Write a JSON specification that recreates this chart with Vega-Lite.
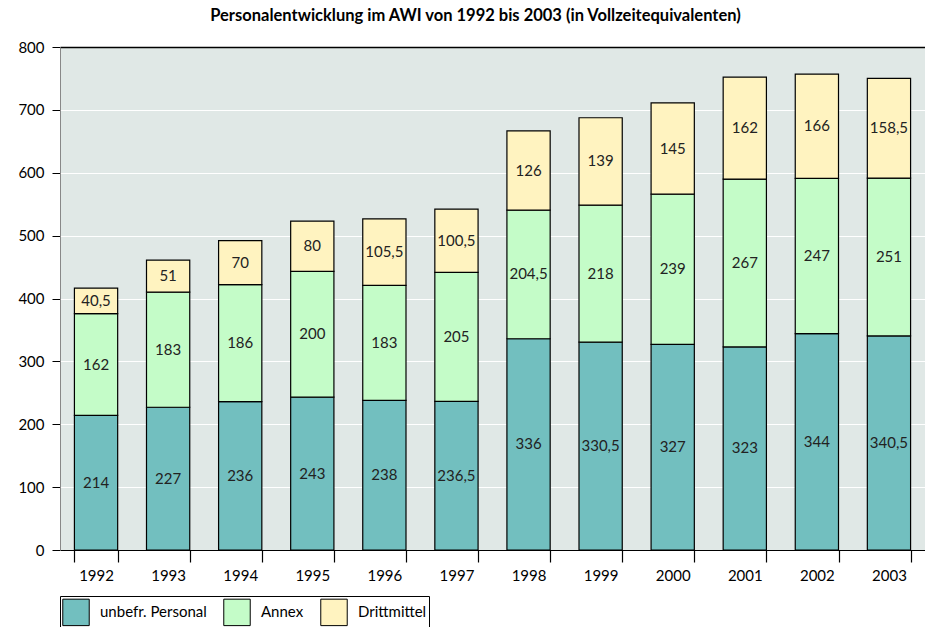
{
  "$schema": "https://vega.github.io/schema/vega-lite/v6.json",
  "width": 865,
  "height": 503,
  "autosize": {"type": "none"},
  "padding": {"left": 60, "top": 47, "right": 0, "bottom": 77},
  "background": "white",
  "title": {
    "text": "Personalentwicklung im AWI von 1992 bis 2003 (in Vollzeitequivalenten)",
    "font": "Lato", "fontSize": 16.5, "fontWeight": "bold", "color": "black",
    "anchor": "middle", "offset": 16, "dx": -17
  },
  "data": {
    "values": [
      {"jahr": "1992", "art": "unbefr. Personal", "ord": 1, "wert": 214},
      {"jahr": "1992", "art": "Annex", "ord": 2, "wert": 162},
      {"jahr": "1992", "art": "Drittmittel", "ord": 3, "wert": 40.5},
      {"jahr": "1993", "art": "unbefr. Personal", "ord": 1, "wert": 227},
      {"jahr": "1993", "art": "Annex", "ord": 2, "wert": 183},
      {"jahr": "1993", "art": "Drittmittel", "ord": 3, "wert": 51},
      {"jahr": "1994", "art": "unbefr. Personal", "ord": 1, "wert": 236},
      {"jahr": "1994", "art": "Annex", "ord": 2, "wert": 186},
      {"jahr": "1994", "art": "Drittmittel", "ord": 3, "wert": 70},
      {"jahr": "1995", "art": "unbefr. Personal", "ord": 1, "wert": 243},
      {"jahr": "1995", "art": "Annex", "ord": 2, "wert": 200},
      {"jahr": "1995", "art": "Drittmittel", "ord": 3, "wert": 80},
      {"jahr": "1996", "art": "unbefr. Personal", "ord": 1, "wert": 238},
      {"jahr": "1996", "art": "Annex", "ord": 2, "wert": 183},
      {"jahr": "1996", "art": "Drittmittel", "ord": 3, "wert": 105.5},
      {"jahr": "1997", "art": "unbefr. Personal", "ord": 1, "wert": 236.5},
      {"jahr": "1997", "art": "Annex", "ord": 2, "wert": 205},
      {"jahr": "1997", "art": "Drittmittel", "ord": 3, "wert": 100.5},
      {"jahr": "1998", "art": "unbefr. Personal", "ord": 1, "wert": 336},
      {"jahr": "1998", "art": "Annex", "ord": 2, "wert": 204.5},
      {"jahr": "1998", "art": "Drittmittel", "ord": 3, "wert": 126},
      {"jahr": "1999", "art": "unbefr. Personal", "ord": 1, "wert": 330.5},
      {"jahr": "1999", "art": "Annex", "ord": 2, "wert": 218},
      {"jahr": "1999", "art": "Drittmittel", "ord": 3, "wert": 139},
      {"jahr": "2000", "art": "unbefr. Personal", "ord": 1, "wert": 327},
      {"jahr": "2000", "art": "Annex", "ord": 2, "wert": 239},
      {"jahr": "2000", "art": "Drittmittel", "ord": 3, "wert": 145},
      {"jahr": "2001", "art": "unbefr. Personal", "ord": 1, "wert": 323},
      {"jahr": "2001", "art": "Annex", "ord": 2, "wert": 267},
      {"jahr": "2001", "art": "Drittmittel", "ord": 3, "wert": 162},
      {"jahr": "2002", "art": "unbefr. Personal", "ord": 1, "wert": 344},
      {"jahr": "2002", "art": "Annex", "ord": 2, "wert": 247},
      {"jahr": "2002", "art": "Drittmittel", "ord": 3, "wert": 166},
      {"jahr": "2003", "art": "unbefr. Personal", "ord": 1, "wert": 340.5},
      {"jahr": "2003", "art": "Annex", "ord": 2, "wert": 251},
      {"jahr": "2003", "art": "Drittmittel", "ord": 3, "wert": 158.5}
    ]
  },
  "transform": [
    {"stack": "wert", "groupby": ["jahr"], "sort": [{"field": "ord", "order": "ascending"}], "as": ["y0", "y1"]},
    {"calculate": "(datum.y0 + datum.y1) / 2", "as": "ymid"}
  ],
  "encoding": {
    "x": {
      "field": "jahr", "type": "ordinal",
      "scale": {"paddingInner": 0.4, "paddingOuter": 0.2},
      "axis": {
        "title": null, "labelAngle": 0, "tickBand": "extent",
        "tickSize": 12, "tickColor": "black", "tickWidth": 1.2,
        "domainColor": "black", "domainWidth": 1.2,
        "labelFont": "Lato", "labelFontSize": 15, "labelColor": "black", "labelPadding": 6
      }
    }
  },
  "layer": [
    {
      "mark": {"type": "bar", "stroke": "black", "strokeWidth": 1.2},
      "encoding": {
        "y": {
          "field": "y0", "type": "quantitative",
          "scale": {"domain": [0, 800]},
          "axis": {
            "title": null, "values": [0, 100, 200, 300, 400, 500, 600, 700, 800],
            "tickSize": 8, "tickColor": "black", "domainColor": "#888888",
            "labelFont": "Lato", "labelFontSize": 15, "labelColor": "black", "labelPadding": 8,
            "grid": true,
            "gridColor": {"condition": {"test": "datum.value === 800", "value": "black"}, "value": "white"},
            "gridWidth": {"condition": {"test": "datum.value === 800", "value": 1.5}, "value": 1.2}
          }
        },
        "y2": {"field": "y1"},
        "color": {
          "field": "art", "type": "nominal",
          "scale": {"domain": ["unbefr. Personal", "Annex", "Drittmittel"], "range": ["#72bfbf", "#c4fcc8", "#fff3c0"]},
          "legend": {
            "title": null, "orient": "none", "legendX": 0, "legendY": 549,
            "direction": "horizontal", "symbolType": "square", "symbolSize": 700,
            "symbolStrokeColor": "black", "symbolStrokeWidth": 1, "symbolOpacity": 1,
            "labelFont": "Lato", "labelFontSize": 15, "labelColor": "black", "labelOffset": 10,
            "columnPadding": 14, "strokeColor": "black", "padding": 2
          }
        }
      }
    },
    {
      "mark": {"type": "text", "font": "Lato", "fontSize": 15, "color": "#222222"},
      "encoding": {
        "y": {"field": "ymid", "type": "quantitative"},
        "text": {"field": "wert", "type": "quantitative", "format": ".1~f"}
      }
    }
  ],
  "config": {
    "view": {"fill": "#e0e8e6", "stroke": null},
    "locale": {"number": {"decimal": ",", "thousands": ".", "grouping": [3], "currency": ["", " €"]}}
  }
}
